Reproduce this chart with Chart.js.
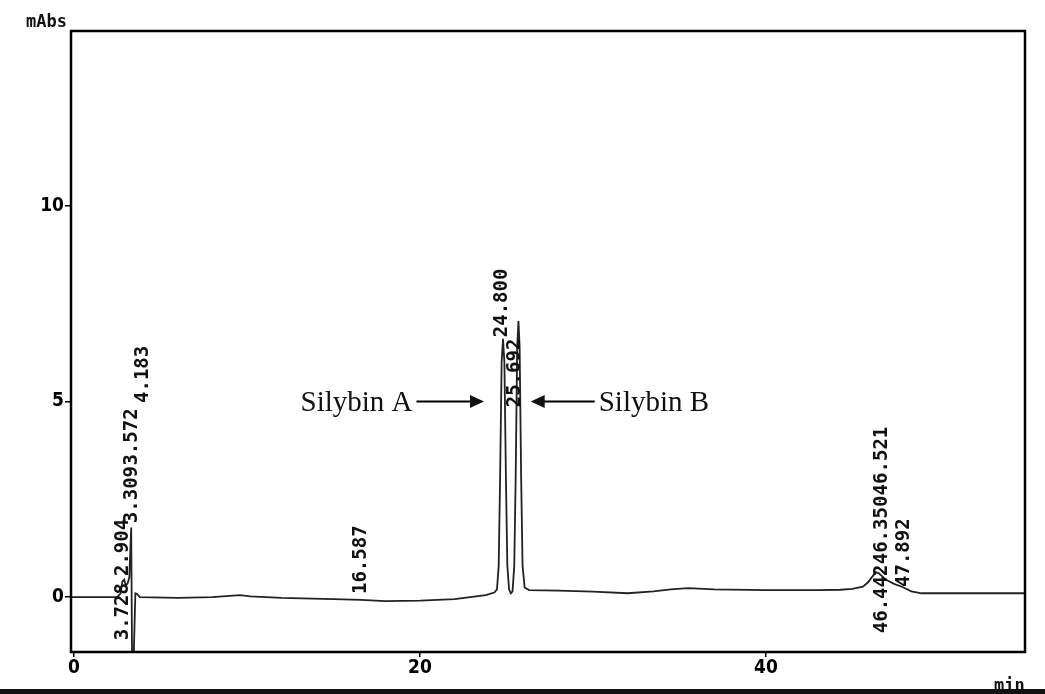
<!DOCTYPE html>
<html>
<head>
<meta charset="utf-8">
<title>HPLC chromatogram</title>
<script src="https://cdn.jsdelivr.net/npm/chart.js@4.4.1/dist/chart.umd.min.js"></script>
<style>
  html, body { margin: 0; padding: 0; background: #fff; }
  canvas { display: block; }
</style>
</head>
<body>
<canvas id="chart" width="1045" height="694"></canvas>
<script>
// detector trace: retention time (min) and signal (mAbs)
const timeMin = [
  -0.17, 2.5, 2.7, 2.8, 2.904, 3.0, 3.1, 3.2, 3.309, 3.36, 3.45, 3.55, 3.65, 3.8,
  6.0, 8.0, 9.6, 10.2, 12.0, 15.0, 16.587, 18.0, 20.0, 22.0, 23.8, 24.3,
  24.45, 24.55, 24.63, 24.72, 24.8, 24.88, 24.97, 25.05, 25.15, 25.25,
  25.35, 25.45, 25.53, 25.62, 25.692, 25.76, 25.85, 25.93, 26.05, 26.3,
  28.0, 30.0, 32.0, 33.5, 34.5, 35.5, 37.0, 40.0, 43.0, 44.3, 45.0,
  45.6, 45.9, 46.1, 46.35, 46.521, 46.8, 47.0, 47.4, 47.892, 48.4, 49.0, 52.0, 54.97
];
const absorbance = [
  0.0, 0.0, 0.1, 0.4, 0.45, 0.3, 0.35, 0.5, 1.78, -1.6, -1.6, 0.1, 0.08, 0.0,
  -0.02, 0.0, 0.05, 0.02, -0.02, -0.05, -0.07, -0.1, -0.09, -0.05, 0.05, 0.12,
  0.2, 0.8, 3.0, 6.0, 6.6, 6.0, 3.0, 0.8, 0.2, 0.1,
  0.15, 0.8, 3.0, 6.4, 7.05, 6.4, 3.0, 0.8, 0.25, 0.18,
  0.17, 0.14, 0.1, 0.15, 0.2, 0.23, 0.2, 0.18, 0.18, 0.19, 0.21,
  0.27, 0.38, 0.5, 0.64, 0.61, 0.5, 0.43, 0.34, 0.26, 0.15, 0.1, 0.1, 0.1
];

// integrator peak labels, printed upward from their anchor
const peakText   = ['2.904', '3.728', '3.309', '3.572', '4.183', '16.587', '24.800', '25.692', '46.442', '46.350', '46.521', '47.892'];
const peakTime   = [2.83, 2.83, 3.35, 3.35, 4.0, 16.59, 24.74, 25.5, 46.7, 46.7, 46.7, 47.98];
const peakLevel  = [0.54, -1.10, 1.89, 3.36, 4.96, 0.08, 6.64, 4.85, -0.92, 0.84, 2.6, 0.26];

const xTicks = [0, 20, 40];
const yTicks = [0, 5, 10];

// compound callouts: text, arrow tail, arrow tip (min, mAbs)
const callouts = [
  { text: 'Silybin A', tail: [19.8, 5.0], tip: [23.7, 5.0] },
  { text: 'Silybin B', tail: [30.1, 5.0], tip: [26.4, 5.0] }
];

const monoFont = "'DejaVu Sans Mono', 'Liberation Mono', monospace";
const tickFont = "'DejaVu Sans Condensed', 'DejaVu Sans', sans-serif";

const printout = {
  id: 'printout',
  afterDatasetsDraw(chart) {
    const { ctx, chartArea: a, scales: { x, y } } = chart;
    ctx.save();

    // peak labels
    ctx.fillStyle = '#111';
    ctx.font = 'bold 19px ' + monoFont;
    ctx.textAlign = 'left';
    ctx.textBaseline = 'middle';
    peakText.forEach((txt, i) => {
      ctx.save();
      ctx.translate(x.getPixelForValue(peakTime[i]), y.getPixelForValue(peakLevel[i]));
      ctx.rotate(-Math.PI / 2);
      ctx.fillText(txt, 0, 0);
      ctx.restore();
    });

    // frame
    ctx.strokeStyle = '#000';
    ctx.lineWidth = 2.5;
    ctx.strokeRect(a.left, a.top, a.right - a.left, a.bottom - a.top);

    // callouts
    ctx.font = '29px "Liberation Serif", "Times New Roman", serif';
    ctx.lineWidth = 2;
    callouts.forEach(c => {
      const tx = x.getPixelForValue(c.tail[0]), ty = y.getPixelForValue(c.tail[1]);
      const px = x.getPixelForValue(c.tip[0]), py = y.getPixelForValue(c.tip[1]);
      const dir = Math.sign(px - tx);
      ctx.beginPath();
      ctx.moveTo(tx, ty);
      ctx.lineTo(px - dir * 12, py);
      ctx.stroke();
      ctx.beginPath();
      ctx.moveTo(px, py);
      ctx.lineTo(px - dir * 14, py - 6.5);
      ctx.lineTo(px - dir * 14, py + 6.5);
      ctx.closePath();
      ctx.fill();
      ctx.textAlign = dir > 0 ? 'right' : 'left';
      ctx.fillText(c.text, tx - dir * 4, ty + 2);
    });

    // units
    ctx.font = 'bold 17px ' + monoFont;
    ctx.textAlign = 'left';
    ctx.textBaseline = 'alphabetic';
    ctx.fillText('mAbs', 26, 27);
    ctx.fillText('min', 994, 691);

    // scanner edge
    ctx.fillRect(0, 689, chart.width, 5);
    ctx.restore();
  }
};

new Chart(document.getElementById('chart').getContext('2d'), {
  type: 'line',
  data: {
    datasets: [{
      data: timeMin.map((t, i) => ({ x: t, y: absorbance[i] })),
      borderColor: '#222',
      borderWidth: 1.8,
      pointRadius: 0,
      tension: 0,
      fill: false
    }]
  },
  options: {
    responsive: false,
    animation: false,
    devicePixelRatio: 1,
    layout: { padding: { top: 31, right: 20, left: 0, bottom: 0 } },
    plugins: { legend: { display: false }, tooltip: { enabled: false } },
    scales: {
      x: {
        type: 'linear',
        min: -0.17,
        max: 54.97,
        afterBuildTicks: axis => { axis.ticks = xTicks.map(v => ({ value: v })); },
        afterFit: axis => { axis.height = 42; },
        border: { display: false },
        grid: { drawOnChartArea: false, drawTicks: true, tickLength: 5, color: '#000', lineWidth: 1.5 },
        ticks: { color: '#000', padding: 0, maxRotation: 0, font: { family: tickFont, size: 19, weight: 'bold' } }
      },
      y: {
        min: -1.40,
        max: 14.46,
        afterBuildTicks: axis => { axis.ticks = yTicks.map(v => ({ value: v })); },
        afterFit: axis => { axis.width = 71; },
        border: { display: false },
        grid: { drawOnChartArea: false, drawTicks: true, tickLength: 6, color: '#000', lineWidth: 1.5 },
        ticks: { color: '#000', padding: 1, font: { family: tickFont, size: 19, weight: 'bold' } }
      }
    }
  },
  plugins: [printout]
});
</script>
</body>
</html>
